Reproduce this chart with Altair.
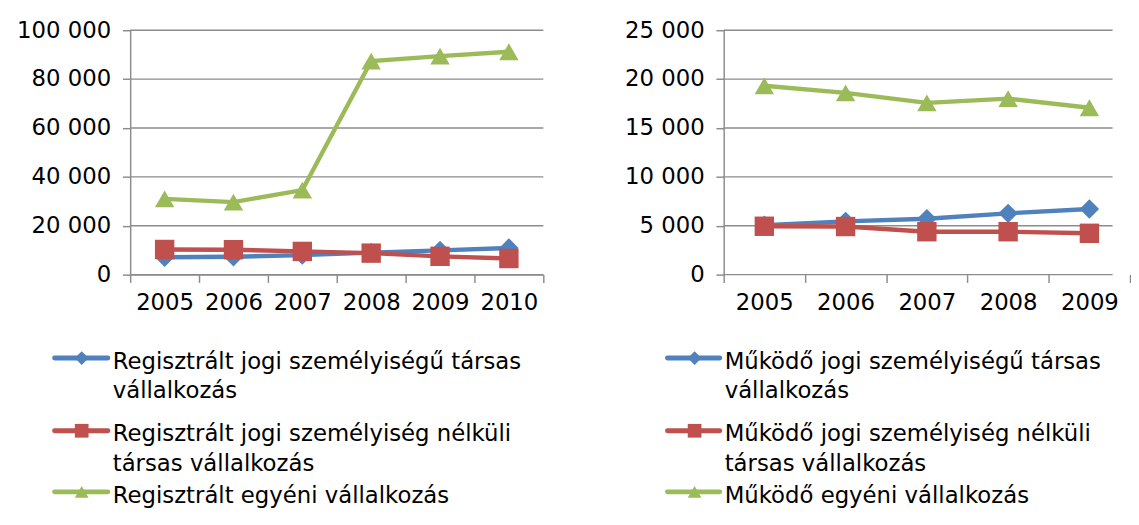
import altair as alt
import pandas as pd

# ---- data ----
years_left = ["2005", "2006", "2007", "2008", "2009", "2010"]
reg_jogi = [7100, 7300, 8000, 9000, 9900, 10900]
reg_nelkuli = [10300, 10200, 9500, 8800, 7500, 6600]
reg_egyeni = [31000, 29700, 34600, 87400, 89400, 91200]

years_right = ["2005", "2006", "2007", "2008", "2009"]
mk_jogi = [5050, 5450, 5720, 6270, 6710]
mk_nelkuli = [4950, 4920, 4390, 4390, 4230]
mk_egyeni = [19320, 18600, 17570, 18000, 17070]

left_names = [
    "Regisztrált jogi személyiségű társas vállalkozás",
    "Regisztrált jogi személyiség nélküli társas vállalkozás",
    "Regisztrált egyéni vállalkozás",
]
left_labels = [
    ["Regisztrált jogi személyiségű társas", "vállalkozás"],
    ["Regisztrált jogi személyiség nélküli", "társas vállalkozás"],
    ["Regisztrált egyéni vállalkozás"],
]
right_names = [
    "Működő jogi személyiségű társas vállalkozás",
    "Működő jogi személyiség nélküli társas vállalkozás",
    "Működő egyéni vállalkozás",
]
right_labels = [
    ["Működő jogi személyiségű társas", "vállalkozás"],
    ["Működő jogi személyiség nélküli", "társas vállalkozás"],
    ["Működő egyéni vállalkozás"],
]

colors = ["#4F81BD", "#C0504D", "#9BBB59"]
shapes = ["diamond", "square", "triangle-up"]

FONT = "DejaVu Sans"
FS = 23.5
GRID = "#8c8c8c"
LEG_ROWS = [338, 413, 476]


def panel(years, series_vals, names, labels, ymax, ystep, width, xrange, leg, extra):
    if xrange is not None:
        xscale = alt.Scale(type="band", paddingInner=0, paddingOuter=0, range=xrange)
    else:
        xscale = alt.Scale(type="band", paddingInner=0, paddingOuter=0)
    x_enc = alt.X(
        "year:N", sort=years, title=None, bandPosition=0.5, scale=xscale,
        axis=alt.Axis(tickBand="extent", tickExtra=extra, labelAngle=0, grid=False,
                      domain=extra, domainColor=GRID, domainWidth=1.5,
                      tickColor=GRID, tickWidth=1.5, tickSize=8, labelPadding=9),
    )
    grid_vals = list(range(0, ymax + 1, ystep))
    y_enc = alt.Y(
        "value:Q", title=None,
        scale=alt.Scale(domain=[0, ymax], nice=False, zero=True),
        axis=alt.Axis(values=grid_vals,
                      labelExpr="replace(format(datum.value, ','), ',', ' ')",
                      grid=False,
                      domainColor=GRID, domainWidth=1.5, tickColor=GRID,
                      tickWidth=1.5, tickSize=8, labelPadding=12),
    )
    # horizontal grid lines spanning the plot width
    gdf = pd.DataFrame({"value": grid_vals})
    layers = [
        alt.Chart(gdf).mark_rule(color=GRID, strokeWidth=1.5).encode(
            y=y_enc, x=alt.value(0), x2=alt.value(width))
    ]
    for i, (name, vals) in enumerate(zip(names, series_vals)):
        df = pd.DataFrame({"year": years, "value": vals, "series": name})
        base = alt.Chart(df)
        layers.append(base.mark_line(strokeWidth=4.5, color=colors[i]).encode(x=x_enc, y=y_enc))
        layers.append(base.mark_point(filled=True, opacity=1, size=400, shape=shapes[i],
                                      color=colors[i]).encode(x=x_enc, y=y_enc))
    # manual legend (layout positions relative to plot origin)
    lx0, lx1, mx, tx = leg
    for i, name in enumerate(names):
        d = pd.DataFrame({"series": [name]})
        yc = LEG_ROWS[i]
        b = alt.Chart(d)
        layers.append(b.mark_rule(strokeWidth=5, strokeCap="round", color=colors[i]).encode(
            x=alt.value(lx0), x2=alt.value(lx1), y=alt.value(yc)))
        layers.append(b.mark_point(filled=True, opacity=1, size=200, shape=shapes[i],
                                   color=colors[i]).encode(x=alt.value(mx), y=alt.value(yc)))
        layers.append(b.mark_text(align="left", baseline="alphabetic", font=FONT,
                                  fontSize=FS, lineHeight=30, color="black").encode(
            x=alt.value(tx), y=alt.value(yc + 11), text=alt.value(labels[i])))
    return alt.layer(*layers).properties(width=width, height=252)


left = panel(years_left, [reg_jogi, reg_nelkuli, reg_egyeni], left_names, left_labels,
             100000, 20000, 426, None, (-78, -23, -50, -18), True)
right = panel(years_right, [mk_jogi, mk_nelkuli, mk_egyeni], right_names, right_labels,
              25000, 5000, 401, [0, 419], (-58, -4, -30, 1), False)

chart = alt.hconcat(left, right, spacing=82).properties(
    padding={"left": 8, "top": 3, "right": 0, "bottom": 3}
).configure_view(strokeWidth=0).configure_axis(
    labelFont=FONT, labelFontSize=FS, labelColor="black"
)

chart.save("out.html", embed_options={"renderer": "svg", "actions": False})
